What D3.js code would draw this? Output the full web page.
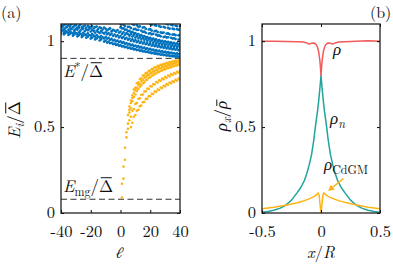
<!DOCTYPE html>
<html>
<head>
<meta charset="utf-8">
<script src="https://cdn.jsdelivr.net/npm/d3@7"></script>
<style>
  body { margin: 0; background: #fff; }
  svg { display: block; }
</style>
</head>
<body>
<div id="chart"></div>
<script>
// ---- panel (a) data: eigen-energies vs angular momentum l ----
var ellAll = d3.range(-40, 41);
var ellPos = d3.range(0, 41);

// dense blue band, l = -40..40
var blue1 = [1.097,1.086,1.094,1.099,1.083,1.092,1.088,1.097,1.081,1.09,
  1.093,1.079,1.088,1.095,1.08,1.086,1.091,1.077,1.089,1.083,
  1.078,1.087,1.074,1.082,1.085,1.071,1.08,1.076,1.068,1.079,
  1.072,1.063,1.07,1.074,1.058,1.066,1.061,1.055,1.064,1.05,
  1.056,1.043,1.051,1.038,1.047,1.041,1.032,1.04,1.027,1.035,
  1.021,1.029,1.016,1.024,1.012,1.019,1.008,1.014,1.002,1.01,
  0.997,1.006,0.992,1.0,0.987,0.996,0.984,0.991,0.98,0.988,
  0.977,0.985,0.973,0.982,0.97,0.979,0.968,0.976,0.966,0.974,0.964];
var blue2 = [1.074,1.082,1.069,1.077,1.084,1.066,1.075,1.07,1.081,1.064,
  1.072,1.067,1.078,1.061,1.07,1.074,1.059,1.068,1.063,1.071,
  1.056,1.065,1.059,1.05,1.062,1.054,1.047,1.058,1.049,1.044,
  1.052,1.041,1.047,1.036,1.044,1.031,1.039,1.028,1.034,1.022,
  1.03,1.018,1.025,1.013,1.02,1.009,1.015,1.003,1.011,0.999,
  1.006,0.994,1.001,0.99,0.997,0.986,0.993,0.982,0.989,0.978,
  0.985,0.974,0.981,0.971,0.977,0.967,0.974,0.964,0.97,0.961,
  0.967,0.958,0.964,0.955,0.961,0.952,0.958,0.95,0.956,0.947,0.953];
var blue3 = [1.058,1.063,1.051,1.06,1.054,1.048,1.057,1.05,1.045,1.055,
  1.047,1.042,1.052,1.044,1.038,1.049,1.04,1.035,1.045,1.036,
  1.031,1.041,1.032,1.026,1.036,1.027,1.021,1.03,1.022,1.016,
  1.025,1.015,1.019,1.009,1.013,1.004,1.008,0.999,1.003,0.995,
  0.999,0.99,0.994,0.985,0.989,0.98,0.984,0.976,0.98,0.971,
  0.975,0.967,0.971,0.963,0.967,0.959,0.963,0.955,0.959,0.951,
  0.955,0.948,0.951,0.944,0.948,0.941,0.945,0.938,0.942,0.935,
  0.939,0.933,0.936,0.93,0.934,0.928,0.931,0.925,0.929,0.923,0.927];
var blue4 = [1.045,null,1.04,1.048,null,1.036,1.043,null,1.032,1.039,
  null,1.028,1.035,null,1.024,1.031,null,1.02,1.026,null,
  1.015,1.021,null,1.01,1.016,null,1.004,1.01,null,0.998,
  1.003,0.992,0.997,0.988,0.991,0.983,0.986,0.978,0.981,0.974,
  0.976,0.969,0.972,0.965,0.967,0.96,0.963,0.956,0.958,0.952,
  0.954,0.948,0.95,0.944,0.946,0.94,0.942,0.937,0.939,0.934,
  0.935,0.93,0.932,0.927,0.929,0.924,0.926,0.921,0.923,0.919,
  0.92,0.916,0.918,0.914,0.915,0.912,0.913,0.91,0.911,0.908,0.909];

// sparser blue strands above the band, l = 0..40
var strand1 = [1.08,1.074,1.075,1.066,1.068,1.059,1.06,1.052,1.054,1.045,
  1.047,1.039,1.041,1.033,1.035,1.027,1.029,1.022,1.024,1.017,
  1.019,1.012,1.015,1.008,1.01,1.004,1.006,1.0,1.002,0.996,
  0.999,0.993,0.996,0.99,0.993,0.987,0.99,0.985,0.988,0.982,0.985];
var strand2 = [1.1,null,1.095,1.088,null,1.083,1.084,1.076,null,1.07,
  1.072,1.065,1.066,null,1.061,1.054,1.056,1.049,null,1.044,
  1.047,1.04,1.042,null,1.038,1.032,1.034,1.028,null,1.024,
  1.027,1.021,1.023,null,1.02,1.015,1.017,1.012,null,1.009,1.012];
var strand3 = [null,null,null,null,null,null,null,null,1.1,1.095,
  null,1.092,1.084,1.086,null,1.079,1.081,1.072,null,1.068,
  1.07,1.062,null,1.058,1.06,1.053,null,1.051,1.048,1.05,
  null,1.044,1.045,1.04,null,1.038,1.04,1.035,null,1.034,1.036];
var strand4 = [null,null,null,null,null,null,null,null,null,null,
  null,null,null,null,null,null,null,null,null,null,
  1.1,1.096,null,1.094,1.09,null,1.088,1.083,null,1.083,
  1.079,null,1.077,1.073,null,1.073,1.07,null,1.07,1.066,1.068];
var strand5 = [null,null,null,null,null,null,null,null,null,null,
  null,null,null,null,null,null,null,null,null,null,
  null,null,null,null,null,null,null,null,null,null,
  null,1.1,1.097,null,1.096,1.092,null,1.091,1.088,null,1.086];

// orange (CdGM-like) branches, l = 0..40
var orange1 = [null,0.09,0.2,0.31,0.44,0.52,0.6,0.655,0.685,0.72,
  0.73,0.755,0.76,0.78,0.784,0.8,0.802,0.814,0.816,0.827,
  0.828,0.838,0.839,0.848,0.848,0.856,0.855,0.863,0.861,0.869,
  0.867,0.874,0.872,0.879,0.877,0.883,0.881,0.887,0.885,0.89,0.888];
var orange2 = [null,0.17,0.27,0.38,0.47,0.57,0.62,0.64,0.67,0.7,
  0.715,0.728,0.745,0.752,0.768,0.774,0.788,0.79,0.801,0.804,
  0.813,0.815,0.824,0.825,0.834,0.834,0.842,0.842,0.85,0.849,
  0.857,0.855,0.863,0.861,0.868,0.866,0.873,0.871,0.877,0.876,0.881];
var orange3 = [null,null,null,null,null,null,0.585,0.61,0.65,0.675,
  0.69,0.71,0.722,0.735,0.742,0.755,0.76,0.772,0.776,0.787,
  0.79,0.799,0.802,0.81,0.812,0.82,0.821,0.828,0.829,0.836,
  0.836,0.843,0.843,0.849,0.849,0.855,0.854,0.86,0.859,0.864,0.864];
var orange4 = [null,null,null,null,null,0.49,0.54,0.56,0.595,0.605,
  0.635,0.64,0.665,0.668,0.688,0.69,0.707,0.708,0.724,0.722,
  0.738,0.736,0.751,0.748,0.762,0.759,0.772,0.769,0.782,0.778,
  0.791,0.787,0.8,0.795,0.808,0.803,0.815,0.81,0.822,0.817,0.828];
var orange5 = [null,null,null,null,null,null,null,0.5,0.525,0.56,
  0.57,0.595,0.6,0.622,0.626,0.645,0.646,0.664,0.664,0.68,
  0.679,0.694,0.692,0.707,0.705,0.719,0.716,0.73,0.727,0.741,
  0.737,0.75,0.746,0.759,0.755,0.767,0.763,0.775,0.77,0.782,0.777];

var eStar = 0.9;
var eMg = 0.08;

// ---- panel (b) data: densities along x/R ----
var rhoX = [-0.5,-0.4,-0.3,-0.2,-0.15,-0.12,-0.1,-0.08,-0.06,-0.04,-0.03,-0.02,-0.01,-0.005,0,
  0.005,0.01,0.02,0.03,0.04,0.06,0.08,0.1,0.12,0.15,0.2,0.3,0.4,0.5];
var rhoY = [1.0,0.999,0.998,0.997,0.995,0.99,0.983,0.988,0.99,0.98,0.965,0.94,0.89,0.85,0.8,
  0.85,0.89,0.94,0.965,0.98,0.99,0.988,0.983,0.99,0.995,0.997,0.999,1.002,1.0];

var rhoNX = [-0.5,-0.45,-0.4,-0.35,-0.3,-0.25,-0.2,-0.17,-0.14,-0.12,-0.1,-0.08,-0.06,-0.05,-0.04,-0.03,-0.02,-0.01,0,
  0.01,0.02,0.03,0.04,0.05,0.06,0.08,0.1,0.12,0.14,0.17,0.2,0.25,0.3,0.35,0.4,0.45,0.5];
var rhoNY = [0.005,0.009,0.016,0.027,0.045,0.075,0.12,0.15,0.19,0.23,0.28,0.34,0.43,0.49,0.54,0.59,0.65,0.72,0.8,
  0.72,0.65,0.59,0.54,0.49,0.43,0.34,0.28,0.23,0.19,0.15,0.12,0.075,0.045,0.027,0.016,0.009,0.005];

var cdgmX = [-0.5,-0.4,-0.3,-0.2,-0.15,-0.1,-0.06,-0.04,-0.025,-0.015,-0.008,0,
  0.008,0.015,0.025,0.04,0.06,0.1,0.15,0.2,0.3,0.4,0.5];
var cdgmY = [0.025,0.033,0.045,0.06,0.07,0.082,0.095,0.105,0.117,0.1,0.05,0.0,
  0.05,0.1,0.117,0.107,0.097,0.084,0.072,0.062,0.046,0.034,0.025];

var xTicksA = [-40, -20, 0, 20, 40];
var xTicksB = [-0.5, 0, 0.5];
var yTicks = [0, 0.5, 1];

var blueColor = "#0072BD";
var orangeColor = "#FDB515";
var redColor = "#F05A5A";
var tealColor = "#1FA59D";
var font = "Latin Modern Roman, Liberation Serif, serif";

var svg = d3.select("#chart").append("svg")
  .attr("width", 393).attr("height", 265)
  .attr("font-family", font);

var xA = d3.scaleLinear().domain([-40, 40]).range([61, 180]);
var yA = d3.scaleLinear().domain([0, 1.1]).range([213, 24]);
var xB = d3.scaleLinear().domain([-0.5, 0.5]).range([262, 380]);
var yB = d3.scaleLinear().domain([0, 1.1]).range([213, 24]);

var defs = svg.append("defs");
defs.append("clipPath").attr("id", "clipA").append("rect")
  .attr("x", 61).attr("y", 24).attr("width", 119).attr("height", 189);
defs.append("clipPath").attr("id", "clipB").append("rect")
  .attr("x", 262).attr("y", 24).attr("width", 118).attr("height", 189);

// ---- panel (a) ----
var gA = svg.append("g").attr("clip-path", "url(#clipA)");

[eStar, eMg].forEach(function (e) {
  gA.append("line")
    .attr("x1", xA(-40)).attr("x2", xA(40))
    .attr("y1", yA(e)).attr("y2", yA(e))
    .attr("stroke", "#333").attr("stroke-width", 1)
    .attr("stroke-dasharray", "6,3.5");
});

function toPoints(rows, ells) {
  var pts = [];
  rows.forEach(function (row) {
    row.forEach(function (e, i) {
      if (e != null) pts.push([ells[i], e]);
    });
  });
  return pts;
}
var bandPts = toPoints([blue1, blue2, blue3, blue4], ellAll);
var strandPts = toPoints([strand1, strand2, strand3, strand4, strand5], ellPos);
var orangePts = toPoints([orange1, orange2, orange3, orange4, orange5], ellPos);

gA.selectAll(".bp").data(bandPts.concat(strandPts)).enter().append("circle")
  .attr("cx", (d) => xA(d[0])).attr("cy", (d) => yA(d[1]))
  .attr("r", 1.35).attr("fill", blueColor);
gA.selectAll(".op").data(orangePts).enter().append("circle")
  .attr("cx", (d) => xA(d[0])).attr("cy", (d) => yA(d[1]))
  .attr("r", 1.3).attr("fill", orangeColor);

// ---- panel (b) ----
var gB = svg.append("g").attr("clip-path", "url(#clipB)");
function drawLine(xs, ys, color) {
  var line = d3.line().x((d, i) => xB(xs[i])).y((d) => yB(d));
  gB.append("path").attr("d", line(ys))
    .attr("fill", "none").attr("stroke", color)
    .attr("stroke-width", 1.5).attr("stroke-linejoin", "round");
}
drawLine(rhoNX, rhoNY, tealColor);
drawLine(rhoX, rhoY, redColor);
drawLine(cdgmX, cdgmY, orangeColor);

// arrow to the CdGM peak
var ax0 = xB(0.19), ay0 = yB(0.2), ax1 = xB(0.06), ay1 = yB(0.128);
var ang = Math.atan2(ay1 - ay0, ax1 - ax0);
var hl = 6, hw = 3.2;
var bx = ax1 - hl * Math.cos(ang), by = ay1 - hl * Math.sin(ang);
svg.append("line").attr("x1", ax0).attr("y1", ay0).attr("x2", bx).attr("y2", by)
  .attr("stroke", orangeColor).attr("stroke-width", 1.5);
svg.append("path")
  .attr("d", `M${ax1},${ay1}L${bx - hw * Math.sin(ang)},${by + hw * Math.cos(ang)}L${bx + hw * Math.sin(ang)},${by - hw * Math.cos(ang)}Z`)
  .attr("fill", orangeColor);

// ---- axes and frames ----
function frame(x, y, xticks) {
  var x0 = x.range()[0], x1 = x.range()[1], y0 = y.range()[0], y1 = y.range()[1];
  var fmt = (d) => String(d);
  var parts = [
    svg.append("g").attr("transform", `translate(0,${y0})`)
      .call(d3.axisBottom(x).tickValues(xticks).tickSize(-3).tickPadding(12).tickFormat(fmt)),
    svg.append("g").attr("transform", `translate(0,${y1})`)
      .call(d3.axisTop(x).tickValues(xticks).tickSize(-3).tickFormat("")),
    svg.append("g").attr("transform", `translate(${x0},0)`)
      .call(d3.axisLeft(y).tickValues(yTicks).tickSize(-3).tickPadding(6).tickFormat(fmt)),
    svg.append("g").attr("transform", `translate(${x1},0)`)
      .call(d3.axisRight(y).tickValues(yTicks).tickSize(-3).tickFormat(""))
  ];
  parts.forEach(function (g) {
    g.attr("font-family", font).attr("font-size", 16.5);
    g.select(".domain").remove();
    g.selectAll(".tick line").attr("stroke", "#000").attr("stroke-width", 1);
    g.selectAll(".tick text").attr("fill", "#111");
  });
  parts[2].selectAll(".tick text").attr("dy", "0.28em");
  svg.append("rect").attr("x", x0).attr("y", y1)
    .attr("width", x1 - x0).attr("height", y0 - y1)
    .attr("fill", "none").attr("stroke", "#222").attr("stroke-width", 1.3);
}
frame(xA, yA, xTicksA);
frame(xB, yB, xTicksB);

// ---- labels ----
// parts: t text, i italic, shift baseline offset, size, fam, bar = overbar height (em)
function rich(parent, x, y, parts, size, anchor) {
  var t = parent.append("text").attr("x", x).attr("y", y)
    .attr("font-size", size).attr("fill", "#111")
    .attr("text-anchor", anchor || "start");
  var shift = 0, bars = [];
  parts.forEach(function (p) {
    var s = p.shift || 0;
    var ts = t.append("tspan").text(p.t).attr("dy", s - shift);
    shift = s;
    if (p.i) ts.attr("font-style", "italic");
    if (p.size) ts.attr("font-size", p.size);
    if (p.fam) ts.attr("font-family", p.fam);
    if (p.bar) bars.push([ts.node(), p]);
  });
  bars.forEach(function (b) {
    var box = b[0].getExtentOfChar(0);
    var off = b[1].i ? 0.12 * size : 0;
    var by = y - b[1].bar * size;
    parent.append("line")
      .attr("x1", box.x + 0.12 * box.width + off).attr("x2", box.x + 0.9 * box.width + off)
      .attr("y1", by).attr("y2", by)
      .attr("stroke", "#111").attr("stroke-width", 1);
  });
  return t;
}
var D = "\u0394";

rich(svg, 1, 18, [{ t: "(a)" }], 16);
rich(svg, 370, 18, [{ t: "(b)" }], 16);

var gyA = svg.append("g").attr("transform", "translate(20,120) rotate(-90)");
rich(gyA, 0, 0, [{ t: "E", i: 1 }, { t: "i", i: 1, shift: 4, size: 12 }, { t: "/" }, { t: D, bar: 0.84 }], 17, "middle");
var gyB = svg.append("g").attr("transform", "translate(227,116) rotate(-90)");
rich(gyB, 0, 0, [{ t: "\u03C1", i: 1 }, { t: "x", i: 1, shift: 4, size: 12 }, { t: "/" }, { t: "\u03C1", i: 1, bar: 0.6 }], 17, "middle");

rich(svg, 120, 258, [{ t: "\u2113", i: 1, fam: "STIX Two Text, STIX Two Math, DejaVu Serif" }], 16, "middle");
rich(svg, 321, 258, [{ t: "x", i: 1 }, { t: "/" }, { t: "R", i: 1 }], 16.5, "middle");

rich(svg, 63, 77, [{ t: "E", i: 1 }, { t: "*", shift: -6, size: 12 }, { t: "/" }, { t: D, bar: 0.84 }], 17);
rich(svg, 63, 192, [{ t: "E", i: 1 }, { t: "mg", shift: 4, size: 12 }, { t: "/" }, { t: D, bar: 0.84 }], 17);

rich(svg, 333, 55, [{ t: "\u03C1", i: 1 }], 17);
rich(svg, 330, 124, [{ t: "\u03C1", i: 1 }, { t: "n", i: 1, shift: 4, size: 12 }], 17);
rich(svg, 324, 170, [{ t: "\u03C1", i: 1 }, { t: "CdGM", shift: 4, size: 12 }], 17);
</script>
</body>
</html>
